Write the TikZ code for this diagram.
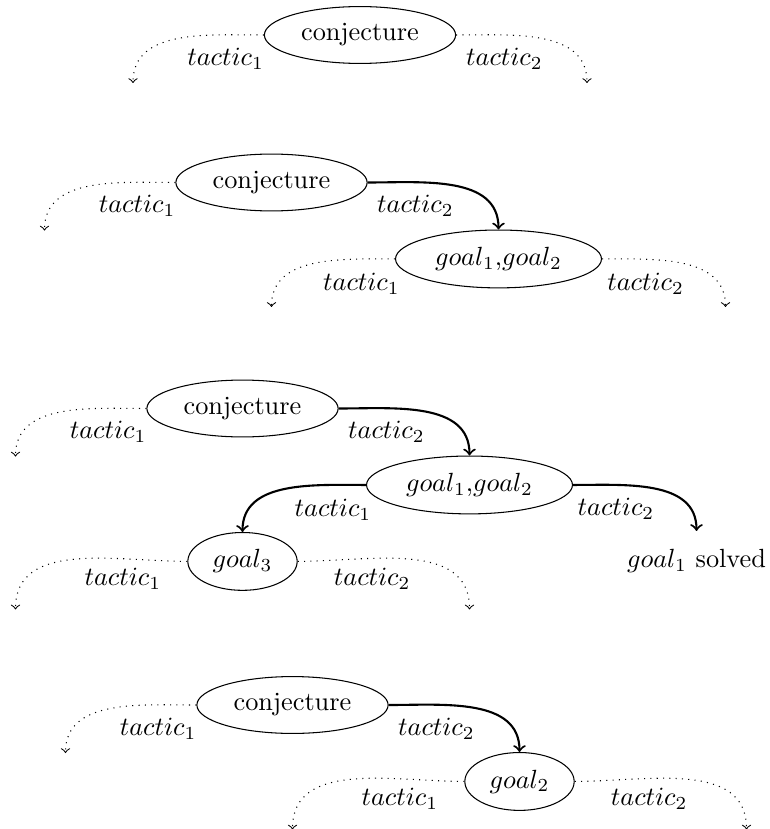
\documentclass[tikz,border=0pt]{standalone}
\usetikzlibrary{shapes.geometric,calc}
\tikzset{
  goalnode/.style={draw, ellipse},
  widenode/.style={goalnode, minimum width=78.3pt},
  dotedge/.style={->, dotted},
  solidedge/.style={->, thick},
  llbl/.style={anchor=north west},
  rlbl/.style={anchor=north east, xshift=3.8pt},
}
\newcommand\leftleaf[1]{%
  \coordinate (#1L) at ($(#1.center)+(-227,48)$);
  \draw[dotedge] (#1.west) to[out=180,in=90] node[llbl]{$tactic_1$} (#1L);}
\newcommand\rightleaf[1]{%
  \coordinate (#1R) at ($(#1.center)+(227,48)$);
  \draw[dotedge] (#1.east) to[out=0,in=90] node[rlbl]{$tactic_2$} (#1R);}
\begin{document}
\begin{tikzpicture}[x=0.3802pt, y=-0.3802pt]
\useasboundingbox (0,0) rectangle (770,829);
% panel 1
\node[goalnode] (c1) at (360,35) {conjecture};
\leftleaf{c1}
\rightleaf{c1}
% panel 2
\node[goalnode] (c2) at (271.5,182.5) {conjecture};
\node[widenode, anchor=north] (g2a) at ($(c2.center)+(227,47)$) {$goal_1$,$goal_2$};
\leftleaf{c2}
\draw[solidedge] (c2.east) to[out=0,in=90] node[rlbl]{$tactic_2$} (g2a.north);
\leftleaf{g2a}
\rightleaf{g2a}
% panel 3
\node[goalnode] (c3) at (242.5,408.5) {conjecture};
\node[widenode, anchor=north] (g3a) at ($(c3.center)+(227,47)$) {$goal_1$,$goal_2$};
\node[goalnode, anchor=north] (g3b) at ($(g3a.center)+(-227,47)$) {$goal_3$};
\coordinate (s3top) at ($(g3a.center)+(227,46)$);
\node (s3) at (s3top |- g3b.center) {$goal_1$ solved};
\leftleaf{c3}
\draw[solidedge] (c3.east) to[out=0,in=90] node[rlbl]{$tactic_2$} (g3a.north);
\draw[solidedge] (g3a.west) to[out=180,in=90] node[llbl]{$tactic_1$} (g3b.north);
\draw[solidedge] (g3a.east) to[out=0,in=90] node[rlbl]{$tactic_2$} (s3top);
\leftleaf{g3b}
\rightleaf{g3b}
% panel 4
\node[goalnode] (c4) at (292.5,705) {conjecture};
\node[goalnode, anchor=north] (g4) at ($(c4.center)+(227,47)$) {$goal_2$};
\leftleaf{c4}
\draw[solidedge] (c4.east) to[out=0,in=90] node[rlbl]{$tactic_2$} (g4.north);
\leftleaf{g4}
\rightleaf{g4}
\end{tikzpicture}
\end{document}
